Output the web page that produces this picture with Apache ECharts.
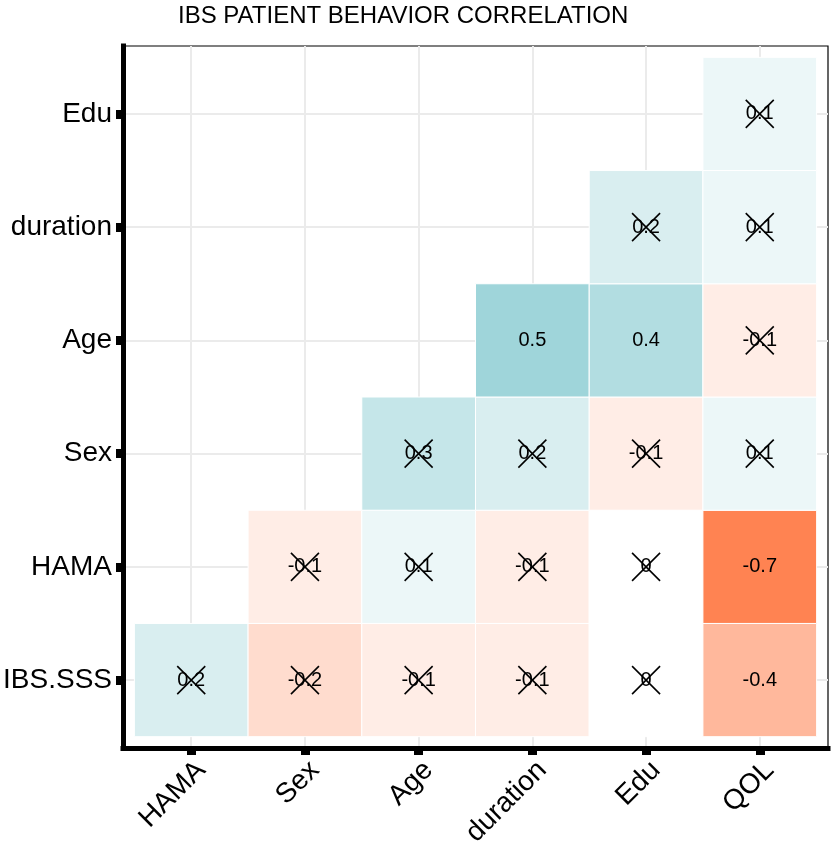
<!DOCTYPE html>
<html>
<head>
<meta charset="utf-8">
<title>IBS patient behavior correlation</title>
<script src="https://cdn.jsdelivr.net/npm/echarts@6.0.0/dist/echarts.min.js"></script>
<style>
  html, body { margin: 0; padding: 0; background: #fff; }
  #chart { width: 839px; height: 854px; }
</style>
</head>
<body>
<div id="chart"></div>
<script>
// variables on the x axis (left to right) and on the y axis (bottom to top)
var xLabels = ['HAMA', 'Sex', 'Age', 'duration', 'Edu', 'QOL'];
var yLabels = ['IBS.SSS', 'HAMA', 'Sex', 'Age', 'duration', 'Edu'];

// correlation of each row variable with the x variables (null = empty cell)
var corrIBS = [0.2, -0.2, -0.1, -0.1, 0, -0.4];
var corrHAMA = [null, -0.1, 0.1, -0.1, 0, -0.7];
var corrSex = [null, null, 0.3, 0.2, -0.1, 0.1];
var corrAge = [null, null, null, 0.5, 0.4, -0.1];
var corrDuration = [null, null, null, null, 0.2, 0.1];
var corrEdu = [null, null, null, null, null, 0.1];

// 1 = significant, 0 = crossed out
var sigIBS = [0, 0, 0, 0, 0, 1];
var sigHAMA = [0, 0, 0, 0, 0, 1];
var sigSex = [0, 0, 0, 0, 0, 0];
var sigAge = [0, 0, 0, 1, 1, 0];
var sigDuration = [0, 0, 0, 0, 0, 0];
var sigEdu = [0, 0, 0, 0, 0, 0];

var rows = [corrIBS, corrHAMA, corrSex, corrAge, corrDuration, corrEdu];
var sigs = [sigIBS, sigHAMA, sigSex, sigAge, sigDuration, sigEdu];

var cells = [];
rows.forEach(function (row, r) {
  row.forEach(function (v, c) {
    if (v !== null) cells.push([c, r, v, sigs[r][c]]);
  });
});

var FONT = '"Liberation Sans", Arial, Helvetica, sans-serif';
var idx = [0, 1, 2, 3, 4, 5];

function renderCell(params, api) {
  var x = api.value(0), y = api.value(1), v = api.value(2), sig = api.value(3);
  var p0 = api.coord([x - 0.5, y + 0.5]);
  var p1 = api.coord([x + 0.5, y - 0.5]);
  var c = api.coord([x, y]);
  var kids = [
    {
      type: 'rect',
      shape: { x: p0[0], y: p0[1], width: p1[0] - p0[0], height: p1[1] - p0[1] },
      style: { fill: api.visual('color'), stroke: '#ffffff', lineWidth: 1 }
    },
    {
      type: 'text',
      style: {
        text: String(v), x: c[0], y: c[1], align: 'center', verticalAlign: 'middle',
        fontSize: 20, fontFamily: FONT, fill: '#000'
      }
    }
  ];
  if (!sig) {
    var h = 14;
    kids.push({ type: 'line', shape: { x1: c[0] - h, y1: c[1] - h, x2: c[0] + h, y2: c[1] + h },
      style: { stroke: '#000', lineWidth: 1.6 } });
    kids.push({ type: 'line', shape: { x1: c[0] - h, y1: c[1] + h, x2: c[0] + h, y2: c[1] - h },
      style: { stroke: '#000', lineWidth: 1.6 } });
  }
  return { type: 'group', children: kids };
}

var chart = echarts.init(document.getElementById('chart'), null, { renderer: 'canvas' });

chart.setOption({
  backgroundColor: '#ffffff',
  animation: false,
  title: {
    text: 'IBS PATIENT BEHAVIOR CORRELATION',
    left: 178,
    top: 4,
    padding: 0,
    textStyle: { fontSize: 24, fontWeight: 'normal', color: '#000', fontFamily: FONT }
  },
  grid: {
    left: 123, right: 11, top: 46, bottom: 106,
    containLabel: false,
    outerBoundsMode: 'none',
    show: true, borderColor: '#000', borderWidth: 1.2, backgroundColor: 'transparent'
  },
  visualMap: {
    show: false,
    type: 'continuous',
    min: -1,
    max: 1,
    dimension: 2,
    seriesIndex: 0,
    inRange: { color: ['#FF4E08', '#FFFFFF', '#3FABB5'] }
  },
  xAxis: {
    type: 'value',
    min: -0.6,
    max: 5.6,
    axisLine: { show: true, onZero: false, lineStyle: { color: '#000', width: 5, cap: 'square' } },
    axisTick: { show: true, length: 7, customValues: idx, lineStyle: { color: '#000', width: 9 } },
    axisLabel: {
      customValues: idx,
      rotate: 45,
      margin: 8,
      verticalAlign: 'top',
      fontSize: 28,
      fontFamily: FONT,
      color: '#000',
      formatter: function (v) { return xLabels[v] !== undefined ? xLabels[v] : ''; }
    },
    splitLine: { show: true, lineStyle: { color: '#EBEBEB', width: 2 } }
  },
  yAxis: {
    type: 'value',
    min: -0.6,
    max: 5.6,
    axisLine: { show: true, onZero: false, lineStyle: { color: '#000', width: 5, cap: 'square' } },
    axisTick: { show: true, length: 7, customValues: idx, lineStyle: { color: '#000', width: 9 } },
    axisLabel: {
      customValues: idx,
      margin: 11,
      fontSize: 28,
      fontFamily: FONT,
      color: '#000',
      formatter: function (v) { return yLabels[v] !== undefined ? yLabels[v] : ''; }
    },
    splitLine: { show: true, lineStyle: { color: '#EBEBEB', width: 2 } }
  },
  series: [{
    type: 'custom',
    renderItem: renderCell,
    encode: { x: 0, y: 1 },
    data: cells
  }]
});
</script>
</body>
</html>
